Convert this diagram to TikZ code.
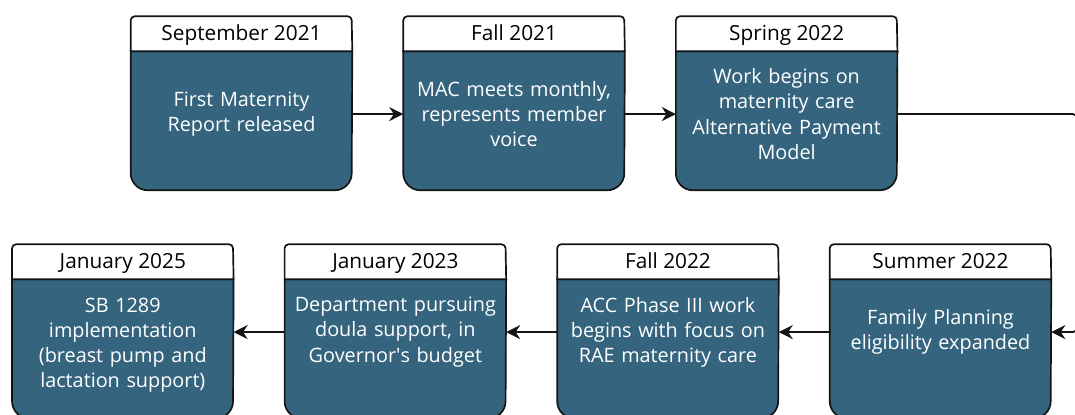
\documentclass[tikz,border=0pt]{standalone}
\usepackage{fontspec}
\setmainfont{Open Sans}
\usetikzlibrary{positioning,arrows.meta,backgrounds}

\definecolor{stepblue}{RGB}{53,100,126}
\definecolor{edgeblack}{RGB}{20,20,20}

\tikzset{
	datehead/.style={minimum width=5.525cm, minimum height=0.875cm, inner sep=0pt,
		text height=10.2pt, text depth=0pt, font=\fontsize{14.8}{17}\selectfont},
	steptext/.style={text=white, align=center, text width=5.4cm, inner sep=0pt,
		font=\fontsize{14.1}{17.9}\selectfont},
	boxline/.style={draw=edgeblack, line width=1.2pt},
	flow/.style={-{Stealth[length=10pt,width=10pt]}, line width=1.3pt, draw=edgeblack},
}

\begin{document}
\begin{tikzpicture}
	\clip (0,0) rectangle (26.875,-10.375);
	% first row, left to right
	\node(h1) [datehead] at (6.0375,-0.8375) {September 2021};
	\node(h2) [datehead,right=1.275cm of h1] {Fall 2021};
	\node(h3) [datehead,right=1.275cm of h2] {Spring 2022};
	% second row, right to left
	\node(h4) [datehead] at (23.5125,-6.5375) {Summer 2022};
	\node(h5) [datehead,left=1.275cm of h4] {Fall 2022};
	\node(h6) [datehead,left=1.275cm of h5] {January 2023};
	\node(h7) [datehead,left=1.275cm of h6] {January 2025};

	\node(t1) [steptext] at ([yshift=-1.57cm]h1.south) {First Maternity\\Report released};
	\node(t2) [steptext] at ([yshift=-1.57cm]h2.south) {MAC meets monthly,\\represents member\\voice};
	\node(t3) [steptext] at ([yshift=-1.57cm]h3.south) {Work begins on\\maternity care\\Alternative Payment\\Model};
	\node(t4) [steptext] at ([yshift=-1.32cm]h4.south) {Family Planning\\eligibility expanded};
	\node(t5) [steptext] at ([yshift=-1.32cm]h5.south) {ACC Phase III work\\begins with focus on\\RAE maternity care};
	\node(t6) [steptext] at ([yshift=-1.32cm]h6.south) {Department pursuing\\doula support, in\\Governor\textquotesingle s budget};
	\node(t7) [steptext] at ([yshift=-1.645cm]h7.south) {SB 1289\\implementation\\(breast pump and\\lactation support)};

	% card outlines: white date tab on a blue body
	\begin{scope}[on background layer]
		\foreach \n in {1,...,7} {
			\draw[boxline,fill=stepblue] (h\n.south west) -- ++(0,-3.05)
				arc[start angle=180,end angle=270,radius=0.425] -- ++(4.675,0)
				arc[start angle=270,end angle=360,radius=0.425] -- (h\n.south east) -- cycle;
			\draw[boxline,fill=white] (h\n.south west) -- ++(0,0.775)
				arc[start angle=180,end angle=90,radius=0.1] -- ++(5.325,0)
				arc[start angle=90,end angle=0,radius=0.1] -- (h\n.south east) -- cycle;
		}
	\end{scope}

	\coordinate (wrap) at (26.96,-4.5);
	\draw[flow] (t1 -| h1.east) -- (t2 -| h2.west);
	\draw[flow] (t2 -| h2.east) -- (t3 -| h3.west);
	\draw[flow,rounded corners=4pt] (t3 -| h3.east) -| (wrap) |- (t4 -| h4.east);
	\draw[flow] (t4 -| h4.west) -- (t5 -| h5.east);
	\draw[flow] (t5 -| h5.west) -- (t6 -| h6.east);
	\draw[flow] (t6 -| h6.west) -- (t6 -| h7.east);
\end{tikzpicture}
\end{document}
